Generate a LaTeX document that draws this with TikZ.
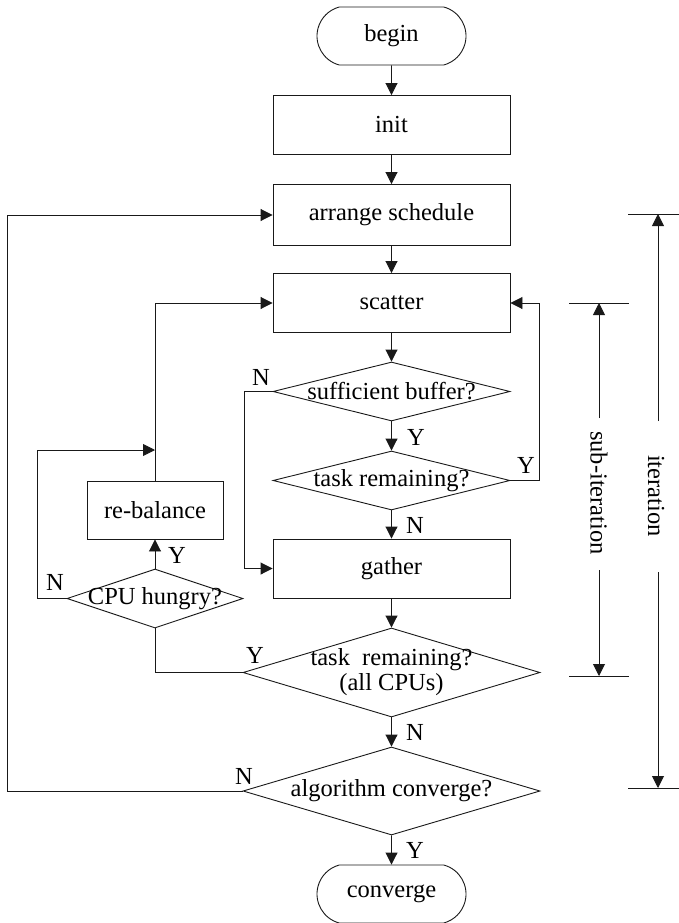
\documentclass[tikz,border=0pt]{standalone}
\usepackage{fontspec}
\setmainfont{Liberation Serif}
\usetikzlibrary{shapes.geometric,shapes.misc,arrows.meta}
\newcommand{\dtext}[1]{\makebox[0pt]{#1}}
\begin{document}
\begin{tikzpicture}[x=1pt,y=-1pt,
  every node/.style={font=\fontsize{24.5}{25}\selectfont},
  ln/.style={line width=0.9pt, draw=black!90},
  arr/.style={ln, -{Triangle[length=12pt,width=12pt]}},
  box/.style={ln, rectangle, minimum width=237pt, minimum height=59pt, inner sep=0pt},
  term/.style={ln, rounded rectangle, rounded rectangle arc length=150, minimum width=149pt, minimum height=58pt, inner sep=0pt},
  dec/.style={ln, diamond, aspect=4, inner sep=0pt},
  lbl/.style={inner sep=0pt}
]
\useasboundingbox (0,0) rectangle (679,923);

% main column
\node[term] (begin) at (391.5,36) {begin};
\node[box] (init) at (391.5,125) {init};
\node[box, minimum height=61pt] (arr) at (391.5,215) {arrange schedule};
\node[box] (scat) at (391.5,303) {scatter};
\node[dec, minimum width=237pt, minimum height=59pt] (suff) at (391.5,391.5) {\dtext{sufficient buffer?}};
\node[dec, minimum width=237pt, minimum height=59pt] (task1) at (391.5,480.5) {\dtext{task remaining?}};
\node[box] (gath) at (391.5,568.5) {gather};
\node[dec, minimum width=297pt, minimum height=89pt] (task2) at (391.5,672.5) {\dtext{\begin{tabular}{@{}c@{}}task\ \ remaining?\\(all CPUs)\end{tabular}}};
\node[dec, minimum width=297pt, minimum height=88pt] (algo) at (391.5,791) {\dtext{algorithm converge?}};
\node[term] (conv) at (391.5,894) {converge};

% left side
\node[box, minimum width=136pt, minimum height=58pt] (reb) at (155,510) {re-balance};
\node[dec, minimum width=176pt, minimum height=59pt] (cpu) at (155,598.5) {\dtext{CPU hungry?}};

% straight arrows
\draw[arr] (begin) -- (init);
\draw[arr] (init) -- (arr);
\draw[arr] (arr) -- (scat);
\draw[arr] (scat) -- (suff);
\draw[arr] (suff) -- (task1);
\draw[arr] (task1) -- (gath);
\draw[arr] (gath) -- (task2);
\draw[arr] (task2) -- (algo);
\draw[arr] (algo) -- (conv);
\draw[arr] (cpu) -- (reb);

% loops
\draw[arr] (suff.west) -| (244,568.5) -- (gath.west);
\draw[arr] (task1.east) -| (539,303) -- (scat.east);
\draw[ln] (task2.west) -| (cpu.south);
\draw[arr] (reb.north) |- (scat.west);
\coordinate (j) at (155,450);
\draw[arr] (cpu.west) -| (37,450) -- (j);
\draw[arr] (algo.west) -| (7,215) -- (arr.west);

% labels
\node[lbl] (l1) at (261,377) {N};
\node[lbl] (l2) at (416,437) {Y};
\node[lbl] (l3) at (526,465) {Y};
\node[lbl] (l4) at (415,525) {N};
\node[lbl] (l5) at (55,582) {N};
\node[lbl] (l6) at (177,555) {Y};
\node[lbl] (l7) at (255,655) {Y};
\node[lbl] (l8) at (415,732) {N};
\node[lbl] (l9) at (244,776) {N};
\node[lbl] (l10) at (415,850) {Y};

% dimension: sub-iteration
\draw[ln] (569,303) -- (629,303);
\draw[ln] (569,676) -- (629,676);
\coordinate (s1) at (599,303);
\coordinate (s2) at (599,676);
\coordinate (s3) at (599,418);
\coordinate (s4) at (599,570);
\node[rotate=-90, inner sep=0pt] (subt) at (599,493) {sub-iteration};
\draw[arr] (s3) -- (s1);
\draw[arr] (s4) -- (s2);

% dimension: iteration
\draw[ln] (628,214) -- (679,214);
\draw[ln] (628,788) -- (679,788);
\coordinate (i1) at (658,214);
\coordinate (i2) at (658,788);
\coordinate (i3) at (658,421);
\coordinate (i4) at (658,572);
\node[rotate=-90, inner sep=0pt] (itt) at (656,496) {iteration};
\draw[arr] (i3) -- (i1);
\draw[arr] (i4) -- (i2);
\end{tikzpicture}
\end{document}
